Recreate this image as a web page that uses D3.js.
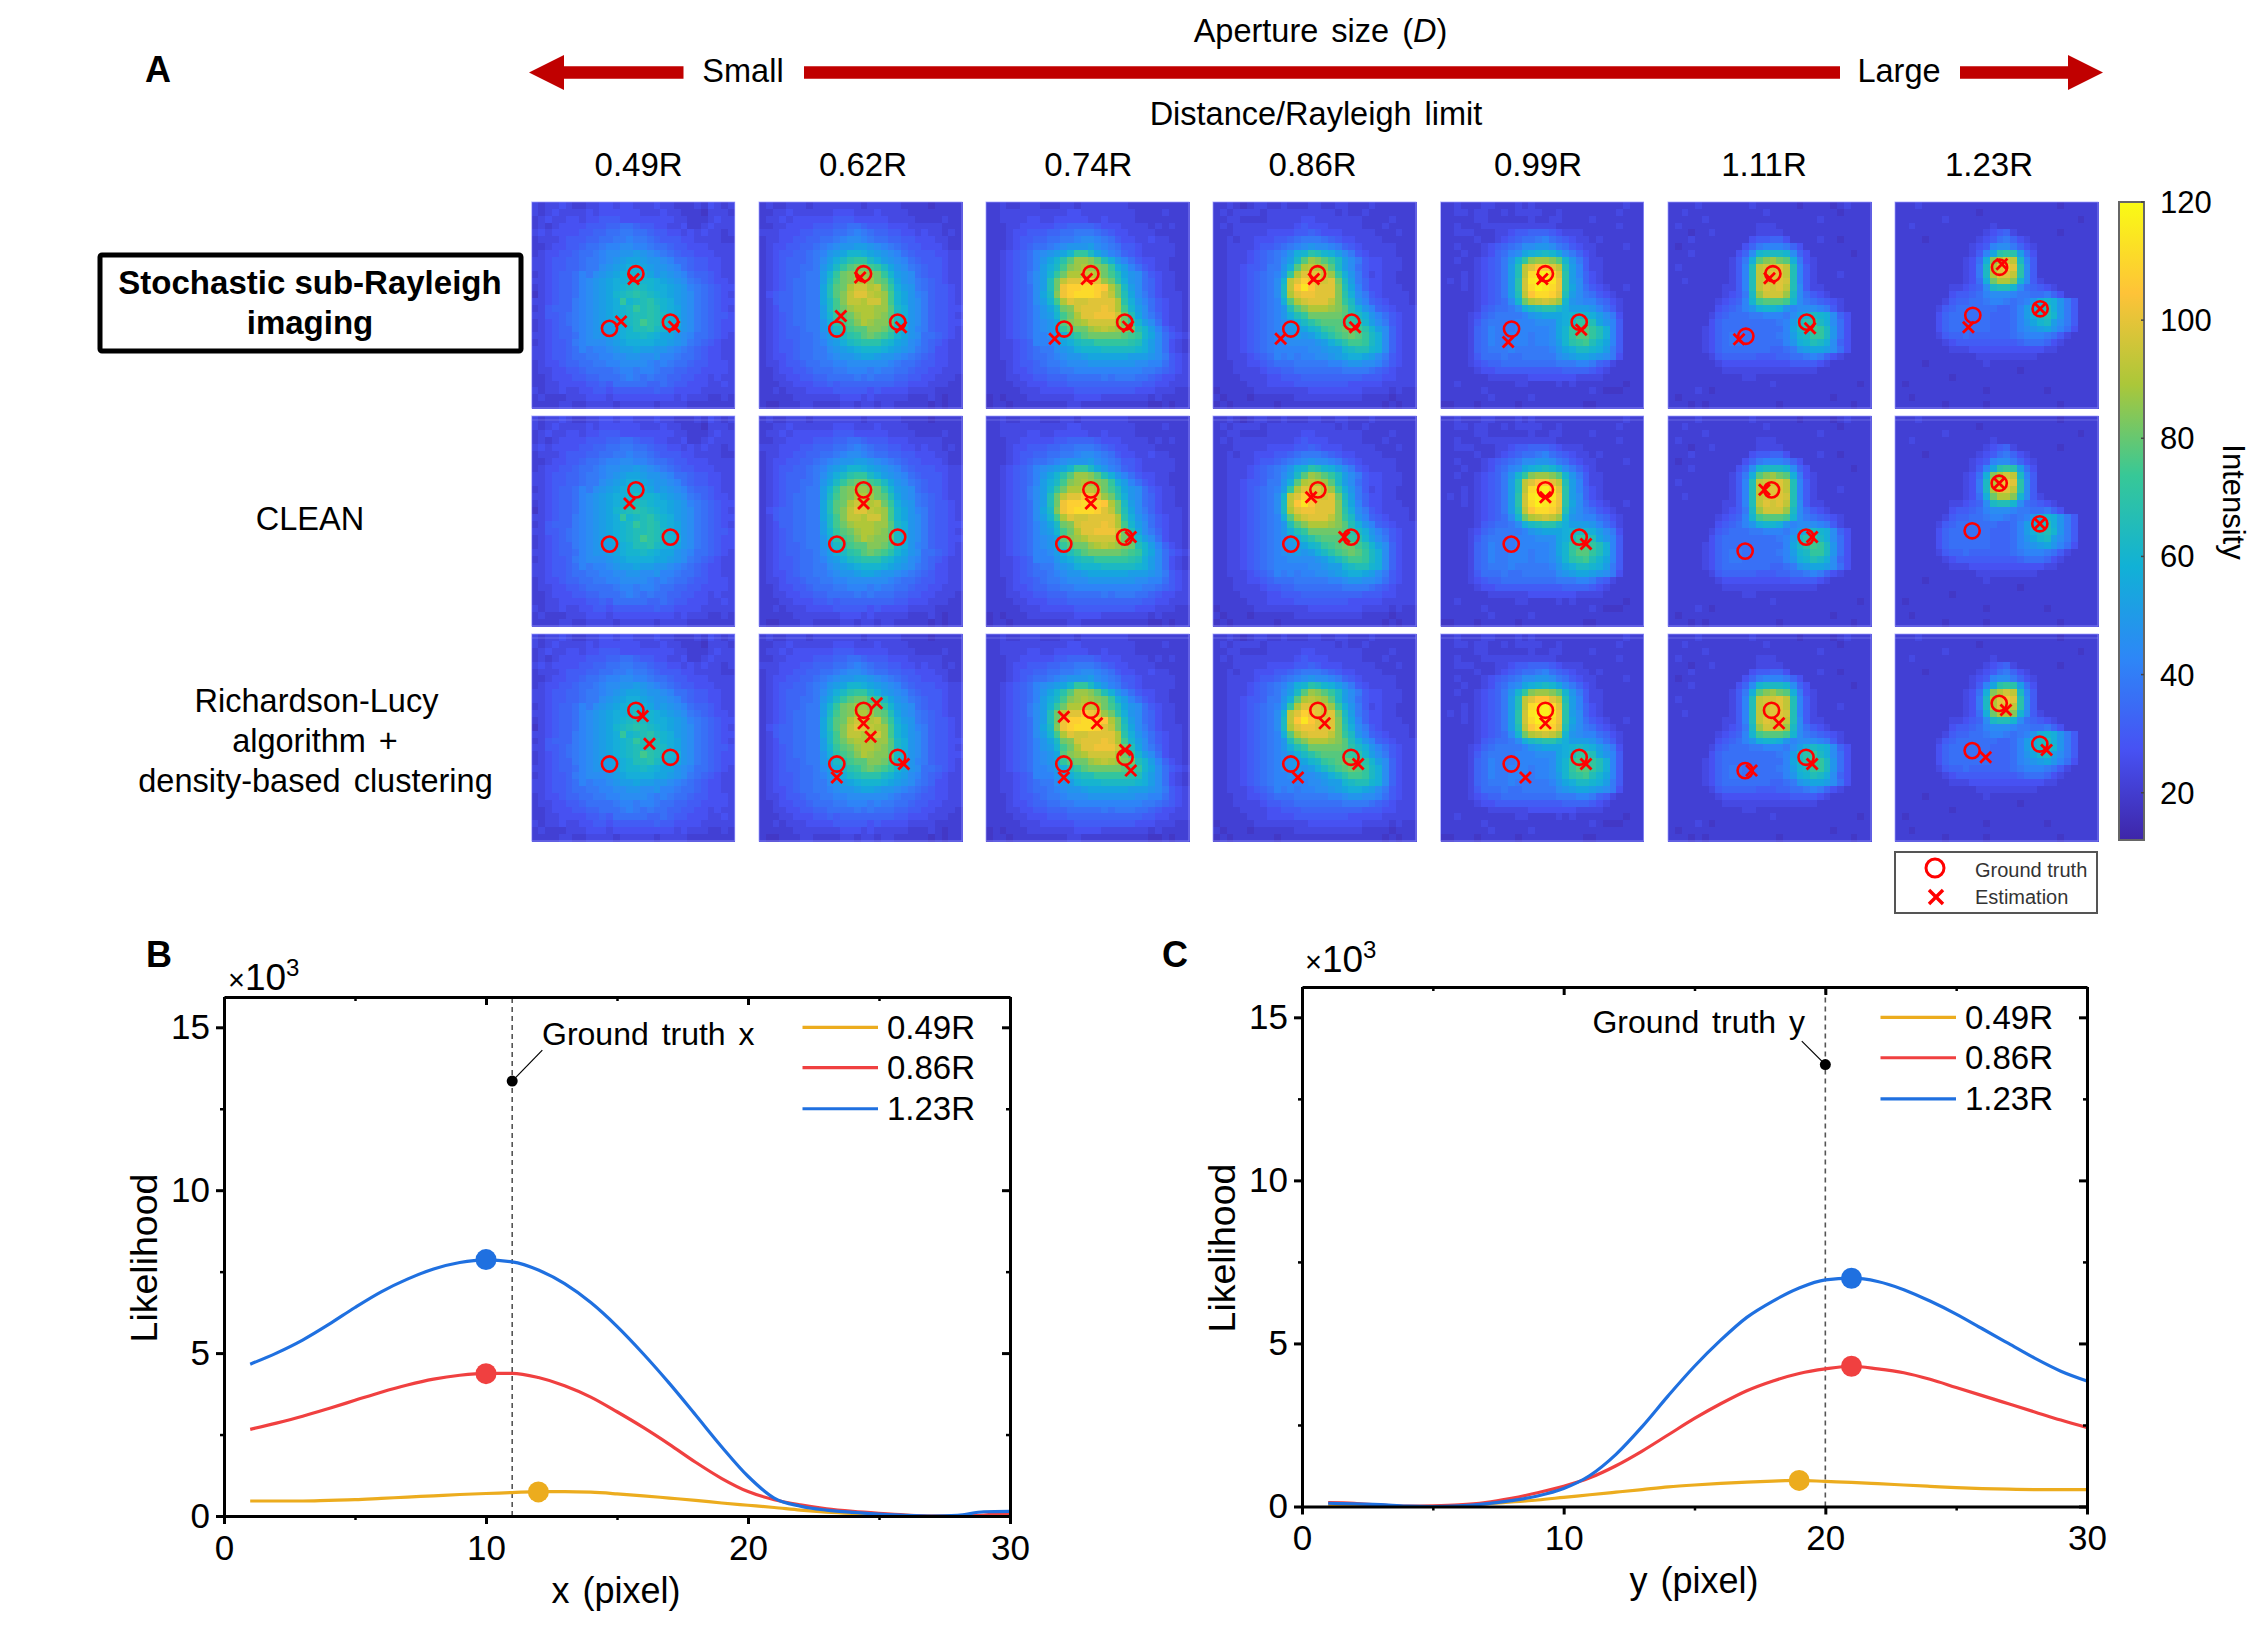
<!DOCTYPE html>
<html><head><meta charset="utf-8">
<script src="https://cdn.jsdelivr.net/npm/d3@7"></script>
<style>html,body{margin:0;background:#fff}svg{display:block}text{font-family:"Liberation Sans",Arial,sans-serif;fill:#000}</style>
</head><body><svg id="c" width="2268" height="1634"></svg>
<script>
// ---------- DATA ----------
const distances = ["0.49R","0.62R","0.74R","0.86R","0.99R","1.11R","1.23R"];
const colorbarTicks = [20,40,60,80,100,120];
const legendLabels = ["0.49R","0.86R","1.23R"];
// Image intensity: one character per pixel, base-36 level (level*3+12 = intensity).
const grid049 = [
"4344543344 5545544454 4333435434","4345444454 5555554445 4433324443","3454455455 6665555555 5443334544","3434555566 6778876655 4453345444","4545555667 7889988766 5545454434",
"3444566677 8899a99876 6655444433","3345566788 9aabbaa988 7665554444","3455667889 abbccdcba9 8766555444","4456677899 abcdeedccb a887665544","4456677899 bcdeffedcc ba87665544",
"3456778a9b cdefggfecd cba8776544","4456778abc deffgiggfe dcb9876554","3456778abc defghihgff edca987655","2456778abc deghijihgf edcb987654","4456779abc defkghijhg fdcb987655",
"3467779abc defghkijig fecb987654","4466789abc defghiijih fecb987665","3456789abc defghiljih gfcb987655","3456779abc ddefgiijhg fecb987655","4456778abc cdefgghgfe ecba887654",
"3456679abb bcdeffffee dcb9876544","4456678a9a abcddeddcc ba98765544","4456678899 aabbccbbca a988765544","3455677889 9aabbbba9a 9887665554","3445566788 889aa9aa98 8776655554",
"3345556677 8889a98988 7766554544","3344555566 7688888778 7665554454","4344544556 6566666676 6555544444","3433344455 5455555555 5454443343","3333443344 4434444434 4443333333"];
const grid062 = [
"3433444344 4444434444 4333323333","3344544444 4555444544 4433333333","3445455555 5666555554 4443333433","3344555566 6778876665 5544444333","4445556677 7889a98776 6554544343",
"3445566778 89abba9887 7665554433","3455667789 abccddcba9 8766555433","345667789a cdeggfedcb a876665544","345677789b dfhjkkhfdc ba87666544","345677889c ehkmnnlkhe cb98766544",
"345677899d gknopponkg dcb8766544","345678899d hlnoqqpnmi ecb9876544","345678899e imnqssqrnk fdc9876654","356778899e imorttrqpl geca976654","346778899e hlorrqsspl gecb976654",
"345778899d hlnpqqqppm hfcb976655","345678899d gkmnpqqpom hfcb976654","345678899c fjlmoqpoom hfcb976655","345677899c ehjlmmoonl hfca976654","345677889b dfhjkmnmlj gecb887654",
"345667889a cdfhijjjhg edba876544","3456678899 bcdefgggfe dcb9875544","3455678899 abccdeedcc ba98765544","3445667889 9aabbbbbba 9887665544","3345566788 899aaa9a99 8876655444",
"3344556677 8888989888 7766554443","3334455566 7677777777 6655544433","3343444555 5666665655 5544443333","3333344444 4455545444 4433343233","3223334433 3344344344 3333323233"];
const grid074 = [
"3343344433 3443444444 4333333333","3344444444 4455444444 4433334333","3344445544 5555544544 4433333333","3334455555 6677776555 4444343433","3334556667 7889998765 5444433333",
"3334566778 899abba986 5544544333","3334567889 abcccdba98 6654444433","3345678abc degkkheca9 7654444433","3345678ace gjmppomifc a865544333","3345678adf hlopqponkf da86544333",
"3345679bdg knqqrrqnli ecb8654433","3345679bdi nrttvutpnj fcb8754433","3345678bdi nuwwxxwvqn hdb8754433","3345678beh ouwxxxwtrn ieb9754443","3345678bdg lqtssttttq jfca865443",
"3345678ace hnostttutq lgdb865443","3345678acd glnqttuuus nieb975443","3345678abc emopqssssq nkgdb85443","3345678abc ekmnnpqrqp onigda7543","3345678aab dfikmnnnnn mlkgeb8654",
"3344567aaa cefhiikkkk kjifdb8543","3344567899 bcdfggghhh hhgfdb8543","3344567889 abccdeeeee edddcb9654","3334566789 9abbbccccc ccbbaa8654","3334556778 899aaaaaaa aaa9987654",
"3334455667 7788888989 9988765544","3333445556 6677777777 7776655444","3333344455 5556666666 6655544433","2323334444 4445555444 4444343333","2332333333 3344333333 3333223233"];
const grid086 = [
"3343234433 4333443344 3334333333","3434444344 4444444434 3343333333","3344333344 4445544444 4433334333","3434444444 4456555444 4433343333","3334444455 5566765554 4444333433",
"3343445556 6789998765 5444433333","3344445667 89abcbba97 6544444333","3344456789 acfgjigfdb 9654444333","3344456789 bdhmpomkhd b965544433","3344566799 cfmqrqpmhd b865544433",
"334456789a dkqtttrpkf c964544333","334456789b grtwutstnh d975544333","334456789b hrvyvtttoi ea75544433","334456789b hqtuutttoj fb96544443","334456789a fmqstttrok hca7654443",
"334456789a cimoqqqpom ifca765444","334456789a cfiknnnnnm jhfca86544","334456789a bdfhjlmmml kjgdb96544","334456789a bcdeghklmn nljgdb7544","334456789a bcdcdfhjlm nmkhfb7544",
"334456789a abbbbcdfhj llkhfb7544","334456789a aaaabbcddg hiigfb7544","334445678a 9a9aabbcde ffedb96544","3334455678 8899999aab ccbba86544","3334444566 7788888889 9998765444",
"3333444455 6667777777 7766655444","3333344455 5566666666 5555544444","2333334444 4444555555 5544443433","3233323333 3344444444 4433332333","2323333332 3333333333 3333323233"];
const grid099 = [
"3343334433 3434333333 3333333433","3344344334 3444433433 3333334333","3333344333 3334334433 3343333333","3343334444 4444444333 3333334333","3344433344 5667776544 4333333333",
"3333343345 67889a8765 4434333333","3343334567 89bbccb986 5443333433","3334334578 abefghgeb9 7543333333","3343345679 cgkoppomgc 9644333333","3333345679 dirtvvtrid a644333333",
"3334345679 dirxyzxtjd a754333333","3434345679 djsyzzyujd b754333333","3334345679 djsxzyxuje b865433433","3333345679 dirvxxwtid b986543333","3333345678 bgnqrsrpgc baa8754333",
"3333346788 9bfhijjhfd ddca864333","3333457899 99acdeeefg hgfdb95333","3333468999 9aaabbbefh kkieca6333","3333478a99 9aaaaabegk lmkifa6333","3333478a99 aaa9aabegk mmkifa6333",
"3333478a99 aaa9aabdgj kligea6333","3333478999 a99999acef hhgfd96333","3333468889 8899999bcd eedcb95333","3333456778 8888888999 aa97643333","3333345566 6666666677 7765433333",
"3333333444 4445555555 4444333333","3343333333 3443333434 3333333233","3333334333 3333333333 3343222333","3333333433 3334333333 3333333333","2233323333 3233333333 3223333333"];
const grid111 = [
"3333433333 3343333332 3333234333","3343333333 3333433333 3333323333","3333343333 3333333333 3343333333","3433333333 3334443333 3333333333","3332334333 3334444333 3333333333",
"3334333333 3356677533 3343323333","3233333333 3579aaa975 3333333333","3334333333 57bghhhgb7 5333333233","3333333334 69fmopnmf9 5433333333","3433333334 6airsstria 6433333333",
"3333333334 6airsttria 6433343333","3343333334 6airsttsia 6433333333","3333333344 6airtstrib 6443333333","3333333345 69hpsssphb 8654333333","3333333456 7aglmmmlgb 9876543333",
"3333333567 8acfggfcab bba9643333","3333334678 8899aaa9bd fhgfb75333","3333335788 8888889adh jkhfb85333","3333345788 8888888aeh jlkhc85333","3333345789 9888889adg hkkhc85333",
"3333345789 9888888acf gihfb75333","3333345788 888887789c deedb85333","3333334677 7776667788 9a97543333","3333333455 5555555566 6654333333","3333333344 4444444444 4433333333",
"3333333333 3443333333 3333333333","3333333333 3333343333 3333333323","3333432333 3333333333 3333333333","3233333333 3333333333 3333233333","3332323333 3333332333 3333333233"];
const grid123 = [
"3334333333 3333333333 3333233333","3333333333 3323333333 3333333333","3333333433 3333333333 3333333233","3343333333 3333433333 3333333333","3333333333 3334567433 3333233333",
"3333233333 3345689754 3333333333","3333333333 3456abb975 4333333333","3333333333 346aejkjd8 5333333333","3333333333 458foqsrha 6333333333","3333333333 459hqtutjb 6333333333",
"3333333333 459hqttrjb 6333333333","3333333333 458fnqqogb 6433333333","3333333344 567bhiigb8 7654333333","3333333356 678abbba99 8897533333","3333333467 7889aa989a cfgfc96333",
"3333334678 88888778ad fhifc96333","3333335788 88887778ad fhigc96333","3333335788 88887778ac eghdb96333","3333335788 88887778ab cdeca85333","3333334677 877777789a aa98643333",
"3333333456 6666666678 8875433333","3333333344 4555555555 5544333333","3333333333 3344444444 4333333333","3333233333 3334333333 3333333333","3333333333 3333333323 3333333333",
"3333333323 3333333333 3333333333","3233333333 3333333333 3333333333","3333333333 3332333333 3323333333","3323333333 3333333333 3333333333","3333333233 3332333333 3333233333"];
const grids = [grid049,grid062,grid074,grid086,grid099,grid111,grid123];

// Emitter positions in image pixels [x,y]
const truthSR = [[[15.4,10.45],[11.5,18.4],[20.5,17.5]],[[15.45,10.45],[11.5,18.5],[20.5,17.5]],[[15.5,10.45],[11.55,18.5],[20.5,17.5]],[[15.45,10.45],[11.5,18.5],[20.5,17.5]],[[15.5,10.45],[10.5,18.5],[20.5,17.5]],[[15.5,10.45],[11.5,19.55],[20.5,17.5]],[[15.45,9.5],[11.5,16.5],[21.45,15.55]]];
const estSR = [[[15.05,11.2],[13.2,17.4],[21.05,18.15]],[[14.95,11],[12.1,16.6],[21,18.25]],[[14.9,11.2],[10.15,19.9],[21,18.15]],[[14.9,11.2],[10,19.9],[21,18.25]],[[15.05,11.2],[10,20.4],[20.8,18.6]],[[15,11.1],[10.5,20],[21,18.4]],[[15.8,9.05],[10.85,18.25],[21.45,15.55]]];
const truthClean = [[[15.4,10.55],[11.5,18.3],[20.5,17.3]],[[15.45,10.55],[11.5,18.3],[20.5,17.3]],[[15.5,10.55],[11.5,18.3],[20.5,17.3]],[[15.5,10.55],[11.5,18.3],[20.4,17.3]],[[15.5,10.55],[10.45,18.3],[20.5,17.3]],[[15.3,10.55],[11.4,19.3],[20.4,17.3]],[[15.4,9.6],[11.4,16.4],[21.4,15.4]]];
const estClean = [[[14.45,12.5]],[[15.45,12.5]],[[15.5,12.5],[21.4,17.3]],[[14.5,11.6],[19.4,17.3]],[[15.5,11.6],[21.5,18.3]],[[14.25,10.55],[21.3,17.3]],[[15.4,9.6],[21.4,15.4]]];
const truthRL = [[[15.4,11.06],[11.5,18.84],[20.5,17.87]],[[15.45,11.06],[11.5,18.84],[20.5,17.87]],[[15.5,11.06],[11.5,18.84],[20.55,17.87]],[[15.5,11.06],[11.5,18.84],[20.4,17.87]],[[15.5,11.06],[10.45,18.84],[20.5,17.87]],[[15.3,11.06],[11.4,19.8],[20.4,17.87]],[[15.4,10.05],[11.4,16.9],[21.4,15.95]]];
const estRL = [[[16.4,11.9],[17.4,15.9]],[[17.4,10.05],[15.45,12.95],[16.5,14.9],[21.4,18.84],[11.5,20.8]],[[11.5,12],[16.4,12.95],[20.55,16.8],[21.4,19.8],[11.5,20.8]],[[16.5,12.95],[12.55,20.8],[21.45,18.84]],[[15.5,12.95],[12.55,20.8],[21.5,18.84]],[[16.4,12.95],[12.35,19.8],[21.3,18.84]],[[16.4,11],[13.4,17.87],[22.4,16.8]]];

// Likelihood curves, x or y = 1..30, in units of 10^3
const pixelIndex = d3.range(1,31);
const bx049 = [.46,.46,.46,.48,.5,.54,.58,.62,.66,.69,.72,.75,.75,.73,.68,.62,.55,.48,.4,.33,.26,.18,.12,.08,.05,.02,0,0,.01,.02];
const bx086 = [2.66,2.85,3.06,3.3,3.55,3.8,4.02,4.2,4.32,4.38,4.38,4.25,4,3.65,3.2,2.72,2.2,1.65,1.15,.75,.5,.34,.22,.14,.08,.03,0,0,.03,.08];
const bx123 = [4.66,5,5.4,5.88,6.4,6.88,7.27,7.58,7.78,7.86,7.8,7.55,7.13,6.55,5.82,4.98,4.07,3.1,2.12,1.22,.55,.3,.18,.11,.06,.02,0,.02,.13,.14];
const cy049 = [.02,.02,.01,0,0,.03,.08,.14,.2,.28,.36,.44,.52,.6,.66,.71,.75,.78,.8,.77,.74,.7,.66,.62,.58,.55,.53,.52,.52,.52];
const cy086 = [.12,.1,.04,.01,.02,.05,.12,.25,.42,.62,.88,1.25,1.7,2.2,2.7,3.15,3.55,3.85,4.08,4.22,4.3,4.22,4.1,3.9,3.65,3.4,3.15,2.9,2.65,2.42];
const cy123 = [.1,.08,.06,.01,0,.02,.08,.18,.32,.55,.95,1.6,2.45,3.4,4.3,5.1,5.8,6.3,6.7,6.95,7,6.9,6.65,6.3,5.9,5.45,5,4.55,4.15,3.85];
const bPeaks = [[12,.74],[10,4.37],[10,7.87]];
const cPeaks = [[19,.8],[21,4.3],[21,7]];
const yMajor = [0,5,10,15], yMinor = [2.5,7.5,12.5];
const xMajor = [0,10,20,30], xMinor = [5,15,25];

// ---------- STYLES ----------
const parula = ["#3e26a8","#4752f4","#2d87f7","#11b1d6","#37c897","#abc739","#fec338","#f9fb14"];
const lineColors = ["#ecac1e","#f04040","#1f70e0"];
const RED = "#ff0000", ARROW = "#c00000";
const colorT = d3.scaleLinear().domain([12,120]).range([0,1]);
const color = d3.scaleLinear().domain(parula.map((d,i)=>i/(parula.length-1))).range(parula).interpolate(d3.interpolateRgb);
const cval = v => color(colorT(v));

const svg = d3.select("#c");
svg.append("rect").attr("width",2268).attr("height",1634).attr("fill","#fff");
function txt(x,y,s,o={}){const t=svg.append("text").attr("x",x).attr("y",y).attr("font-size",o.size||32.5).attr("text-anchor",o.anchor||"middle").attr("font-weight",o.weight||"normal").attr("word-spacing",o.ws||0).text(s);if(o.fill)t.style("fill",o.fill);return t;}

// ---------- TOP ARROWS & HEADINGS ----------
const arrowY=72.5,bar=6.2,head=17.5;
const poly=p=>svg.append("polygon").attr("points",p.map(d=>d.join(",")).join(" ")).attr("fill",ARROW);
poly([[529,arrowY],[564,arrowY-head],[564,arrowY-bar],[683.5,arrowY-bar],[683.5,arrowY+bar],[564,arrowY+bar],[564,arrowY+head]]);
poly([[804,arrowY-bar],[1840,arrowY-bar],[1840,arrowY+bar],[804,arrowY+bar]]);
poly([[2103,arrowY],[2068,arrowY-head],[2068,arrowY-bar],[1960,arrowY-bar],[1960,arrowY+bar],[2068,arrowY+bar],[2068,arrowY+head]]);
txt(743,82,"Small");txt(1899,82,"Large");
const ap=txt(1320.5,42,"Aperture size (",{ws:4});ap.append("tspan").attr("font-style","italic").text("D");ap.append("tspan").text(")");
txt(1316,125,"Distance/Rayleigh limit",{ws:4});
txt(145,82,"A",{anchor:"start",weight:"bold",size:36});
const labelX=[638.6,863,1088.4,1312.6,1538,1764,1989];
distances.forEach((d,i)=>txt(labelX[i],176,d,{size:33}));

// Row labels
svg.append("rect").attr("x",100).attr("y",255).attr("width",421).attr("height",96).attr("rx",2).attr("fill","none").attr("stroke","#000").attr("stroke-width",5);
txt(310,294,"Stochastic sub-Rayleigh",{weight:"bold",size:33});
txt(310,334,"imaging",{weight:"bold",size:33});
txt(310,530,"CLEAN");
txt(316.5,712,"Richardson-Lucy");
txt(315,752,"algorithm +",{ws:4});
txt(315.5,792,"density-based clustering",{ws:4});

// ---------- HEATMAP PANELS ----------
const defs=svg.append("defs");
defs.append("filter").attr("id","soft").attr("x","-2%").attr("y","-2%").attr("width","104%").attr("height","104%").append("feGaussianBlur").attr("stdDeviation",0.7);
const panelLeft = [531.7,759,986,1213,1440.5,1668,1895], panelW = 203;
const rowsDef = [{top:202,bottom:408,truth:truthSR,est:estSR},{top:416,bottom:626,truth:truthClean,est:estClean},{top:634,bottom:841,truth:truthRL,est:estRL}];
rowsDef.forEach((row,ri)=>{
  grids.forEach((grid,ci)=>{
    const sx=d3.scaleLinear().domain([0,30]).range([panelLeft[ci],panelLeft[ci]+panelW]);
    const sy=d3.scaleLinear().domain([0,30]).range([row.top,row.bottom]);
    const g=svg.append("g").attr("filter","url(#soft)");
    const cells=[];
    grid.forEach((s,j)=>{[...s.replace(/ /g,"")].forEach((ch,i)=>cells.push({i,j,v:parseInt(ch,36)*3+12}));});
    g.selectAll("rect").data(cells).join("rect")
      .attr("x",d=>sx(d.i)).attr("y",d=>sy(d.j)).attr("width",sx(1)-sx(0)+.5).attr("height",sy(1)-sy(0)+.5)
      .attr("fill",d=>cval(d.v)).attr("shape-rendering","crispEdges");
    svg.append("rect").attr("x",sx(0)).attr("y",sy(0)).attr("width",panelW).attr("height",row.bottom-row.top).attr("fill","none").attr("stroke","#9a9aff").attr("stroke-opacity",.7).attr("stroke-width",1);
    if(ri>0) svg.append("line").attr("x1",sx(0)).attr("x2",sx(30)).attr("y1",sy(0)+4).attr("y2",sy(0)+4).attr("stroke","#b0b0ff").attr("stroke-opacity",.35);
    svg.selectAll(null).data(row.truth[ci]).join("circle").attr("cx",d=>sx(d[0])).attr("cy",d=>sy(d[1])).attr("r",7.6).attr("fill","none").attr("stroke",RED).attr("stroke-width",2.6);
    svg.selectAll(null).data(row.est[ci]).join("path").attr("d",d3.symbol(d3.symbolTimes,81)).attr("transform",d=>`translate(${sx(d[0])},${sy(d[1])})`).attr("fill","none").attr("stroke",RED).attr("stroke-width",2.8);
  });
});

// Color bar
const cbX=2119,cbW=25,cbTop=202,cbBottom=840;
const cbScale=d3.scaleLinear().domain([12,120]).range([cbBottom,cbTop]);
const lg=defs.append("linearGradient").attr("id","cb").attr("x1",0).attr("y1",1).attr("x2",0).attr("y2",0);
parula.forEach((c,i)=>lg.append("stop").attr("offset",i/(parula.length-1)).attr("stop-color",c));
svg.append("rect").attr("x",cbX).attr("y",cbTop).attr("width",cbW).attr("height",cbBottom-cbTop).attr("fill","url(#cb)").attr("stroke","#666").attr("stroke-width",2);
colorbarTicks.forEach(v=>{
  svg.append("line").attr("x1",cbX+cbW-3).attr("x2",cbX+cbW).attr("y1",cbScale(v)).attr("y2",cbScale(v)).attr("stroke","#444").attr("stroke-width",1.5);
  txt(2160,cbScale(v)+11,String(v),{anchor:"start",size:31});
});
svg.append("text").attr("transform","translate(2223,502) rotate(90)").attr("text-anchor","middle").attr("font-size",31).text("Intensity");

// Marker legend
svg.append("rect").attr("x",1895).attr("y",852).attr("width",202).attr("height",61).attr("fill","#fff").attr("stroke","#555").attr("stroke-width",2);
svg.append("circle").attr("cx",1935).attr("cy",868).attr("r",9).attr("fill","none").attr("stroke",RED).attr("stroke-width",3);
svg.append("path").attr("d",d3.symbol(d3.symbolTimes,130)).attr("transform","translate(1936,897)").attr("fill","none").attr("stroke",RED).attr("stroke-width",3.4);
txt(1975,876.5,"Ground truth",{anchor:"start",size:20,fill:"#333"});
txt(1975,904,"Estimation",{anchor:"start",size:20,fill:"#333"});

// ---------- LINE PANELS ----------
function linePanel(o){
  const x=d3.scaleLinear().domain([0,30]).range([o.x0,o.x1]);
  const y=d3.scaleLinear().domain([0,15.93]).range([o.y0,o.y1]);
  const g=svg.append("g");
  const axes=[
    [d3.axisLeft(y),`translate(${o.x0},0)`,yMajor,yMinor,8,4,true,6],
    [d3.axisRight(y),`translate(${o.x1},0)`,yMajor,yMinor,-8,-4,false,6],
    [d3.axisBottom(x),`translate(0,${o.y0})`,xMajor,xMinor,8,4,true,11],
    [d3.axisTop(x),`translate(0,${o.y1})`,xMajor,xMinor,-8,-4,false,6]];
  g.append("line").attr("x1",x(o.truth)).attr("x2",x(o.truth)).attr("y1",o.y0).attr("y2",o.y1).attr("stroke","#555").attr("stroke-width",1.6).attr("stroke-dasharray","5 4");
  const line=d3.line().x((d,i)=>x(pixelIndex[i])).y(d=>y(d)).curve(d3.curveMonotoneX);
  o.series.forEach((s,i)=>g.append("path").attr("d",line(s)).attr("fill","none").attr("stroke",lineColors[i]).attr("stroke-width",3.2));
  o.peaks.forEach((p,i)=>g.append("circle").attr("cx",x(p[0])).attr("cy",y(p[1])).attr("r",10.5).attr("fill",lineColors[i]));
  g.append("line").attr("x1",x(o.truth)).attr("y1",y(o.dot)).attr("x2",x(o.lead[0])).attr("y2",y(o.lead[1])).attr("stroke","#000").attr("stroke-width",1.2);
  g.append("circle").attr("cx",x(o.truth)).attr("cy",y(o.dot)).attr("r",5.5).attr("fill","#000");
  axes.forEach(([ax,tr,maj,min,ms,ns,lab,pad])=>{
    const a=g.append("g").attr("transform",tr);
    a.call(ax.tickValues(maj).tickSizeInner(ms).tickSizeOuter(0).tickPadding(pad).tickFormat(lab?d3.format("d"):""));
    a.selectAll("text").attr("font-size",35).attr("font-family","Liberation Sans");
    a.selectAll("line,path").attr("stroke","#000").attr("stroke-width",3);
    const b=g.append("g").attr("transform",tr);
    b.call(ax.tickValues(min).tickSizeInner(ns).tickSizeOuter(0).tickFormat(""));
    b.select("path").remove();
    b.selectAll("line").attr("stroke","#000").attr("stroke-width",2.5);
  });
  txt(o.gtX,o.gtY,o.gtLabel,{anchor:o.gtAnchor,ws:4,size:32});
  legendLabels.forEach((l,i)=>{
    const v=[15,13.76,12.5][i];
    g.append("line").attr("x1",o.legX).attr("x2",o.legX+75.5).attr("y1",y(v)).attr("y2",y(v)).attr("stroke",lineColors[i]).attr("stroke-width",3.2);
    txt(o.legX+84.5,y(v)+11.5,l,{anchor:"start",size:33});
  });
  txt(o.xTitleX,o.xTitleY,o.xTitle,{size:36,ws:3});
  svg.append("text").attr("transform",`translate(${o.yTitleX},${o.yTitleC}) rotate(-90)`).attr("text-anchor","middle").attr("font-size",37.5).text("Likelihood");
  const e=txt(o.expX,o.expY,"",{anchor:"start"});
  e.append("tspan").attr("font-size",29).text("×");
  e.append("tspan").attr("font-size",37).text("10");
  e.append("tspan").attr("font-size",24).attr("dy",-14).text("3");
}
linePanel({x0:224,x1:1010,y0:1516,y1:997,truth:11,dot:13.35,lead:[12.15,14.3],gtLabel:"Ground truth x",gtX:542,gtY:1045,gtAnchor:"start",series:[bx049,bx086,bx123],peaks:bPeaks,legX:802.5,xTitle:"x (pixel)",xTitleX:616,xTitleY:1603,yTitleX:157,yTitleC:1258,expX:228,expY:990});
linePanel({x0:1302,x1:2087,y0:1506.5,y1:987,truth:20,dot:13.55,lead:[19.1,14.27],gtLabel:"Ground truth y",gtX:1805,gtY:1033,gtAnchor:"end",series:[cy049,cy086,cy123],peaks:cPeaks,legX:1880.5,xTitle:"y (pixel)",xTitleX:1694,xTitleY:1593,yTitleX:1235,yTitleC:1248,expX:1305,expY:972});
txt(146,967,"B",{anchor:"start",weight:"bold",size:36});
txt(1162,967,"C",{anchor:"start",weight:"bold",size:36});
</script></body></html>
